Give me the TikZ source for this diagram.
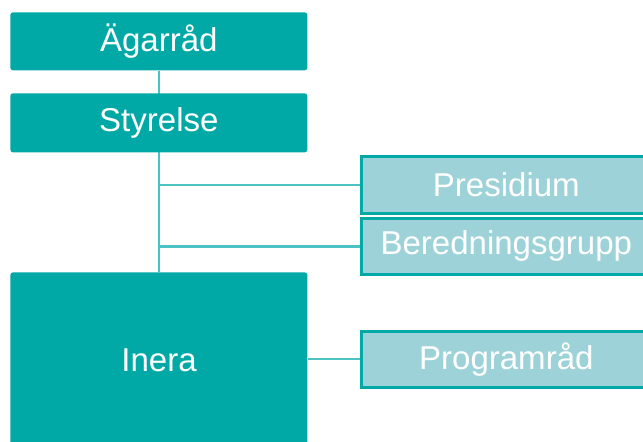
\documentclass[tikz,border=0pt]{standalone}
\usepackage{fontspec}
\setmainfont{Liberation Sans}
\usepackage{xcolor}
\usetikzlibrary{backgrounds}
\definecolor{tealmain}{HTML}{00A9A6}
\definecolor{teallight}{HTML}{9DD3D8}
\definecolor{tealline}{HTML}{4CC2C2}

\begin{document}
\begin{tikzpicture}[x=0.02cm,y=-0.02cm,
  orgbox/.style={fill=tealmain, text=white, rounded corners=1.5pt, inner sep=0pt,
    anchor=north west, font=\fontsize{18.8}{22}\selectfont},
  subbox/.style={fill=teallight, draw=tealmain, line width=1.5pt, text=white, inner sep=0pt,
    anchor=north west, font=\fontsize{18.8}{22}\selectfont},
  link/.style={draw=tealline, line width=1.4pt}]
\useasboundingbox (0,0) rectangle (643,442);
\clip (0,0) rectangle (643,442);
%% left column
\node[orgbox, minimum width=297*0.02cm, minimum height=58*0.02cm] (agarrad) at (10,12) {Ägarråd};
\node[orgbox, minimum width=297*0.02cm, minimum height=59*0.02cm] (styrelse) at (10,93) {Styrelse};
\node[orgbox, minimum width=297*0.02cm, minimum height=176*0.02cm] (inera) at (10,272) {};
\node[text=white, font=\fontsize{18.8}{22}\selectfont] (ineratext) at (159,360) {Inera};
%% right column
\node[subbox, minimum width=290*0.02cm, minimum height=57*0.02cm] (presidium) at (360,155) {Presidium};
\node[subbox, minimum width=290*0.02cm, minimum height=56*0.02cm] (beredning) at (360,217) {Beredningsgrupp};
\node[subbox, minimum width=290*0.02cm, minimum height=56*0.02cm] (programrad) at (360,330) {Programråd};
%% links
\begin{pgfonlayer}{background}
\draw[link] (agarrad.south) -- (inera.north);
\draw[link] (presidium.west) -- (presidium.west -| inera.north);
\draw[link] (beredning.west) -- (beredning.west -| inera.north);
\draw[link, line width=1pt] (programrad.west) -- (programrad.west -| inera.east);
\end{pgfonlayer}
\end{tikzpicture}
\end{document}
